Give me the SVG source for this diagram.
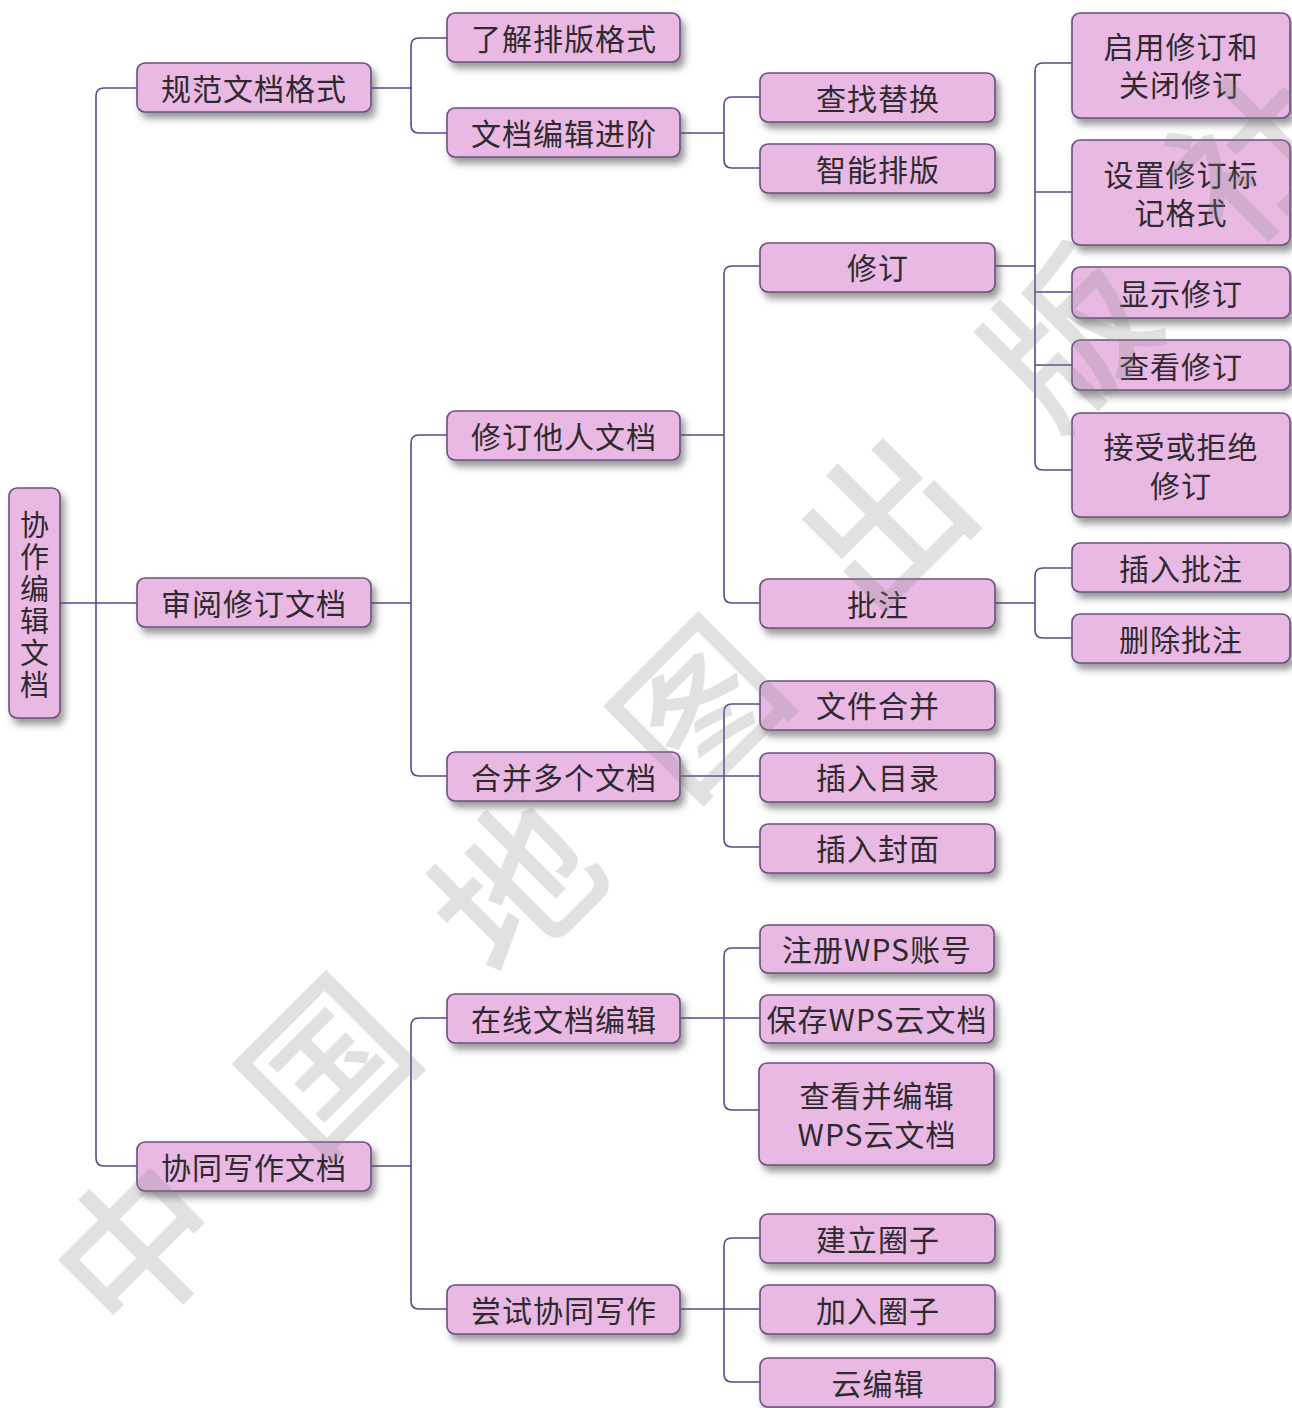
<svg xmlns="http://www.w3.org/2000/svg" width="1292" height="1408" viewBox="0 0 1292 1408">
<defs>
<filter id="sh" x="-10%" y="-20%" width="130%" height="160%">
<feDropShadow dx="4" dy="6" stdDeviation="3.5" flood-color="#4a4a4a" flood-opacity="0.55"/>
</filter>
<style>
.box{fill:#eab9e3;stroke:#6a5080;stroke-width:1.6;filter:url(#sh)}
.t{font-family:"Noto Sans CJK SC","Noto Sans",sans-serif;font-size:30px;fill:#2e2a30;text-anchor:middle;dominant-baseline:central;letter-spacing:1px}
.r{font-size:29px;letter-spacing:0}
.c{fill:none;stroke:#5a4a88;stroke-width:1.6}
.wm{font-family:"Noto Sans CJK SC",sans-serif;font-size:160px;font-weight:500;fill:#888888;fill-opacity:0.25;text-anchor:middle;dominant-baseline:central}
</style>
</defs>
<rect width="1292" height="1408" fill="#ffffff"/>
<g id="connectors">
<path class="c" d="M59 603 H137 M96 603 V96 Q96 88 104 88 H137 M96 603 V1158 Q96 1166 104 1166 H137"/>
<path class="c" d="M371 88 H411 M411 88 V46 Q411 38 419 38 H447 M411 88 V125 Q411 133 419 133 H447"/>
<path class="c" d="M371 603 H411 M411 603 V443 Q411 435 419 435 H447 M411 603 V768 Q411 776 419 776 H447"/>
<path class="c" d="M371 1166 H411 M411 1166 V1026 Q411 1018 419 1018 H447 M411 1166 V1301 Q411 1309 419 1309 H447"/>
<path class="c" d="M680 133 H724 M724 133 V105 Q724 97 732 97 H760 M724 133 V160 Q724 168 732 168 H760"/>
<path class="c" d="M680 435 H724 M724 435 V274 Q724 266 732 266 H760 M724 435 V595 Q724 603 732 603 H760"/>
<path class="c" d="M680 776 H760 M724 776 V712 Q724 704 732 704 H760 M724 776 V839 Q724 847 732 847 H760"/>
<path class="c" d="M680 1018 H760 M724 1018 V956 Q724 948 732 948 H760 M724 1018 V1102 Q724 1110 732 1110 H760"/>
<path class="c" d="M680 1309 H760 M724 1309 V1246 Q724 1238 732 1238 H760 M724 1309 V1374 Q724 1382 732 1382 H760"/>
<path class="c" d="M995 266 H1035 M1035 266 V71 Q1035 63 1043 63 H1072 M1035 192 H1072 M1035 266 V462 Q1035 470 1043 470 H1072 M1035 292 H1072 M1035 365 H1072"/>
<path class="c" d="M995 603 H1035 M1035 603 V576 Q1035 568 1043 568 H1072 M1035 603 V630 Q1035 638 1043 638 H1072"/>
</g>
<g id="n-root"><rect class="box" x="9" y="488" width="51" height="230" rx="8"/>
<text class="t r" x="34.500"><tspan x="34.500" y="523">协</tspan><tspan x="34.500" y="555">作</tspan><tspan x="34.500" y="587">编</tspan><tspan x="34.500" y="619">辑</tspan><tspan x="34.500" y="651">文</tspan><tspan x="34.500" y="683">档</tspan></text></g>
<g id="n-1a"><rect class="box" x="137" y="63" width="234" height="49" rx="8"/><text class="t" x="254" y="87">规范文档格式</text></g>
<g id="n-1b"><rect class="box" x="137" y="578" width="234" height="49" rx="8"/><text class="t" x="254" y="602">审阅修订文档</text></g>
<g id="n-1c"><rect class="box" x="137" y="1142" width="234" height="49" rx="8"/><text class="t" x="254" y="1166">协同写作文档</text></g>
<g id="n-2a"><rect class="box" x="447" y="13" width="233" height="49" rx="8"/><text class="t" x="564" y="37">了解排版格式</text></g>
<g id="n-2b"><rect class="box" x="447" y="108" width="233" height="49" rx="8"/><text class="t" x="564" y="132">文档编辑进阶</text></g>
<g id="n-2c"><rect class="box" x="447" y="411" width="233" height="49" rx="8"/><text class="t" x="564" y="435">修订他人文档</text></g>
<g id="n-2d"><rect class="box" x="447" y="752" width="233" height="49" rx="8"/><text class="t" x="564" y="776">合并多个文档</text></g>
<g id="n-2e"><rect class="box" x="447" y="994" width="233" height="49" rx="8"/><text class="t" x="564" y="1018">在线文档编辑</text></g>
<g id="n-2f"><rect class="box" x="447" y="1285" width="233" height="49" rx="8"/><text class="t" x="564" y="1309">尝试协同写作</text></g>
<g id="n-3a"><rect class="box" x="760" y="73" width="235" height="49" rx="8"/><text class="t" x="878" y="97">查找替换</text></g>
<g id="n-3b"><rect class="box" x="760" y="144" width="235" height="49" rx="8"/><text class="t" x="878" y="168">智能排版</text></g>
<g id="n-3c"><rect class="box" x="760" y="243" width="235" height="49" rx="8"/><text class="t" x="878" y="266">修订</text></g>
<g id="n-3d"><rect class="box" x="760" y="579" width="235" height="49" rx="8"/><text class="t" x="878" y="603">批注</text></g>
<g id="n-3e"><rect class="box" x="760" y="681" width="235" height="49" rx="8"/><text class="t" x="878" y="704">文件合并</text></g>
<g id="n-3f"><rect class="box" x="760" y="753" width="235" height="49" rx="8"/><text class="t" x="878" y="776">插入目录</text></g>
<g id="n-3g"><rect class="box" x="760" y="824" width="235" height="49" rx="8"/><text class="t" x="878" y="847">插入封面</text></g>
<g id="n-3h"><rect class="box" x="760" y="925" width="234" height="48" rx="8"/><text class="t" x="877" y="948">注册WPS账号</text></g>
<g id="n-3i"><rect class="box" x="760" y="995" width="234" height="48" rx="8"/><text class="t" x="877" y="1018">保存WPS云文档</text></g>
<g id="n-3j"><rect class="box" x="759" y="1063" width="235" height="102" rx="8"/><text class="t" x="877"><tspan x="877" y="1094">查看并编辑</tspan><tspan x="877" y="1133">WPS云文档</tspan></text></g>
<g id="n-3k"><rect class="box" x="760" y="1214" width="235" height="49" rx="8"/><text class="t" x="878" y="1238">建立圈子</text></g>
<g id="n-3l"><rect class="box" x="760" y="1285" width="235" height="49" rx="8"/><text class="t" x="878" y="1309">加入圈子</text></g>
<g id="n-3m"><rect class="box" x="760" y="1358" width="235" height="49" rx="8"/><text class="t" x="878" y="1382">云编辑</text></g>
<g id="n-4a"><rect class="box" x="1072" y="13" width="218" height="105" rx="8"/><text class="t" x="1181"><tspan x="1181" y="45">启用修订和</tspan><tspan x="1181" y="83">关闭修订</tspan></text></g>
<g id="n-4b"><rect class="box" x="1072" y="140" width="218" height="105" rx="8"/><text class="t" x="1181"><tspan x="1181" y="173">设置修订标</tspan><tspan x="1181" y="211">记格式</tspan></text></g>
<g id="n-4c"><rect class="box" x="1072" y="267" width="218" height="51" rx="8"/><text class="t" x="1181" y="292">显示修订</text></g>
<g id="n-4d"><rect class="box" x="1072" y="340" width="218" height="50" rx="8"/><text class="t" x="1181" y="365">查看修订</text></g>
<g id="n-4e"><rect class="box" x="1072" y="413" width="218" height="104" rx="8"/><text class="t" x="1181"><tspan x="1181" y="445">接受或拒绝</tspan><tspan x="1181" y="484">修订</tspan></text></g>
<g id="n-4f"><rect class="box" x="1072" y="543" width="218" height="49" rx="8"/><text class="t" x="1181" y="567">插入批注</text></g>
<g id="n-4g"><rect class="box" x="1072" y="614" width="218" height="49" rx="8"/><text class="t" x="1181" y="638">删除批注</text></g>
<g id="watermark">
<text class="wm" x="130" y="1240" transform="rotate(-45 130 1240)">中</text>
<text class="wm" x="320" y="1058" transform="rotate(-45 320 1058)">国</text>
<text class="wm" x="508" y="880" transform="rotate(-45 508 880)">地</text>
<text class="wm" x="692" y="700" transform="rotate(-45 692 700)">图</text>
<text class="wm" x="878" y="515" transform="rotate(-45 878 515)">出</text>
<text class="wm" x="1062" y="330" transform="rotate(-45 1062 330)">版</text>
<text class="wm" x="1245" y="148" transform="rotate(-45 1245 148)">社</text>
</g>
</svg>
